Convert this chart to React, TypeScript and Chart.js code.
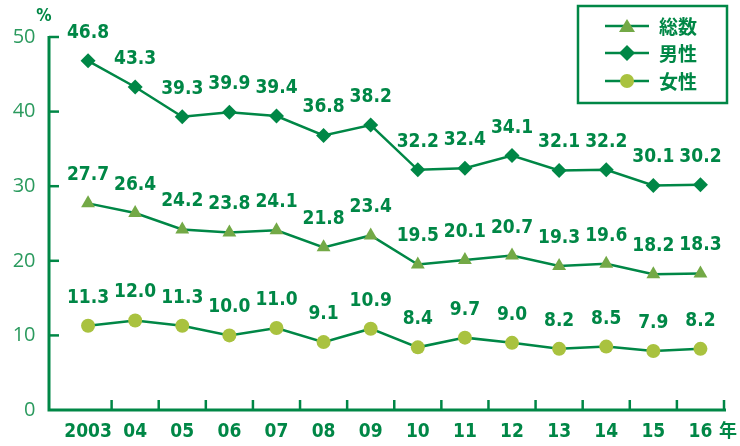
import React, { useEffect, useRef } from "react";
import { Chart, registerables } from "chart.js";

Chart.register(...registerables);

const years = ["2003", "04", "05", "06", "07", "08", "09", "10", "11", "12", "13", "14", "15", "16"];
const totalValues = [27.7, 26.4, 24.2, 23.8, 24.1, 21.8, 23.4, 19.5, 20.1, 20.7, 19.3, 19.6, 18.2, 18.3];
const maleValues = [46.8, 43.3, 39.3, 39.9, 39.4, 36.8, 38.2, 32.2, 32.4, 34.1, 32.1, 32.2, 30.1, 30.2];
const femaleValues = [11.3, 12.0, 11.3, 10.0, 11.0, 9.1, 10.9, 8.4, 9.7, 9.0, 8.2, 8.5, 7.9, 8.2];
const yTicks = [0, 10, 20, 30, 40, 50];
const seriesNames = ["総数", "男性", "女性"];

const DARK = "#008746";
const TRI = "#73A946";
const CIRC = "#A9C23F";
const TICKTXT = "#2B9A5E";
const LABELFONT = "bold 19px 'DejaVu Sans Condensed', 'DejaVu Sans', sans-serif";

const decorPlugin = {
  id: "decor",
  afterDatasetsDraw(chart: any) {
    const ctx = chart.ctx;
    const y = chart.scales.y;
    const area = chart.chartArea;
    ctx.save();
    // data labels
    ctx.fillStyle = DARK;
    ctx.font = LABELFONT;
    ctx.textAlign = "center";
    ctx.textBaseline = "middle";
    chart.data.datasets.forEach((ds: any, di: number) => {
      const meta = chart.getDatasetMeta(di);
      meta.data.forEach((pt: any, i: number) => {
        ctx.fillText(ds.data[i].toFixed(1), pt.x, pt.y - 28);
      });
    });
    // axes
    const axisX = 49;
    const y0 = y.getPixelForValue(0);
    ctx.strokeStyle = DARK;
    ctx.lineWidth = 3;
    ctx.beginPath();
    ctx.moveTo(axisX, y.getPixelForValue(50) - 1);
    ctx.lineTo(axisX, y0);
    ctx.lineTo(area.right + 2, y0);
    ctx.stroke();
    ctx.lineWidth = 2.5;
    yTicks.forEach((v) => {
      if (v === 0) return;
      const py = y.getPixelForValue(v);
      ctx.beginPath();
      ctx.moveTo(axisX, py);
      ctx.lineTo(axisX + 10, py);
      ctx.stroke();
    });
    const n = chart.data.labels.length;
    const step = (area.right - area.left) / n;
    for (let k = 1; k <= n; k++) {
      const px = area.left + step * k;
      ctx.beginPath();
      ctx.moveTo(px, y0);
      ctx.lineTo(px, y0 - 10);
      ctx.stroke();
    }
    // unit labels
    ctx.font = "bold 17px 'DejaVu Sans Condensed', 'DejaVu Sans', sans-serif";
    ctx.fillStyle = DARK;
    ctx.fillText("%", 44, 17);
    ctx.font = "bold 18px 'Noto Sans CJK JP', sans-serif";
    ctx.fillText("年", 728, 430);
    // legend
    ctx.lineWidth = 2.5;
    ctx.strokeRect(578, 6, 149, 97);
    const rows = [26, 53, 81];
    rows.forEach((ry, i) => {
      ctx.strokeStyle = DARK;
      ctx.lineWidth = 2.5;
      ctx.beginPath();
      ctx.moveTo(605, ry);
      ctx.lineTo(649, ry);
      ctx.stroke();
      const cx = 627;
      ctx.beginPath();
      if (i === 0) {
        ctx.fillStyle = TRI;
        ctx.moveTo(cx, ry - 7);
        ctx.lineTo(cx + 8, ry + 6);
        ctx.lineTo(cx - 8, ry + 6);
        ctx.closePath();
      } else if (i === 1) {
        ctx.fillStyle = DARK;
        ctx.moveTo(cx, ry - 8);
        ctx.lineTo(cx + 8, ry);
        ctx.lineTo(cx, ry + 8);
        ctx.lineTo(cx - 8, ry);
        ctx.closePath();
      } else {
        ctx.fillStyle = CIRC;
        ctx.arc(cx, ry, 7, 0, Math.PI * 2);
      }
      ctx.fill();
      ctx.fillStyle = DARK;
      ctx.font = "bold 19px 'Noto Sans CJK JP', sans-serif";
      ctx.textAlign = "left";
      ctx.fillText(seriesNames[i], 659, ry + 1);
    });
    ctx.restore();
  },
};

export default function App() {
  const ref = useRef<HTMLCanvasElement | null>(null);
  useEffect(() => {
    if (!ref.current) return;
    const chart = new Chart(ref.current, {
      type: "line",
      data: {
        labels: years,
        datasets: [
          {
            label: seriesNames[0],
            data: totalValues,
            borderColor: DARK,
            borderWidth: 2.5,
            pointStyle: "triangle",
            pointRadius: 8,
            pointBackgroundColor: TRI,
            pointBorderColor: TRI,
            pointBorderWidth: 0,
          },
          {
            label: seriesNames[1],
            data: maleValues,
            borderColor: DARK,
            borderWidth: 2.5,
            pointStyle: "rectRot",
            pointRadius: 7.5,
            pointBackgroundColor: DARK,
            pointBorderColor: DARK,
            pointBorderWidth: 0,
          },
          {
            label: seriesNames[2],
            data: femaleValues,
            borderColor: DARK,
            borderWidth: 2.5,
            pointStyle: "circle",
            pointRadius: 7,
            pointBackgroundColor: CIRC,
            pointBorderColor: CIRC,
            pointBorderWidth: 0,
          },
        ],
      },
      options: {
        animation: false,
        responsive: true,
        maintainAspectRatio: false,
        layout: { padding: { top: 37, right: 16, left: 0, bottom: 0 } },
        plugins: { legend: { display: false }, tooltip: { enabled: false } },
        scales: {
          x: {
            type: "category",
            offset: true,
            grid: { display: false, drawTicks: false },
            border: { display: false },
            ticks: {
              color: DARK,
              padding: 11,
              font: { family: "'DejaVu Sans Condensed', 'DejaVu Sans', sans-serif", size: 19, weight: "bold" },
              maxRotation: 0,
              autoSkip: false,
            },
            afterFit: (s: any) => {
              s.height = 36;
              s.paddingLeft = 0;
              s.paddingRight = 0;
              s.paddingTop = 0;
              s.paddingBottom = 0;
            },
          },
          y: {
            min: 0,
            max: 50,
            grid: { display: false, drawTicks: false },
            border: { display: false },
            afterBuildTicks: (s: any) => {
              s.ticks = yTicks.map((v) => ({ value: v }));
            },
            ticks: {
              color: TICKTXT,
              padding: 29,
              font: { family: "'Open Sans', sans-serif", size: 20, weight: "normal" },
            },
            afterFit: (s: any) => {
              s.width = 64.5;
              s.paddingTop = 0;
              s.paddingBottom = 0;
              s.paddingLeft = 0;
              s.paddingRight = 0;
            },
          },
        },
      },
      plugins: [decorPlugin],
    });
    return () => chart.destroy();
  }, []);
  return (
    <div style={{ position: "absolute", left: 0, top: 0, width: 740, height: 446, background: "#fff" }}>
      <canvas ref={ref} />
    </div>
  );
}
